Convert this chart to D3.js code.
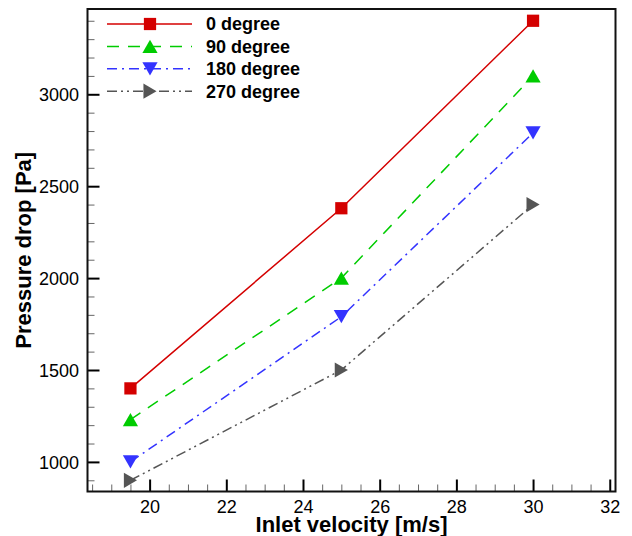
<!DOCTYPE html>
<html>
<head>
<meta charset="utf-8">
<script src="https://cdn.jsdelivr.net/npm/d3@7"></script>
<style>
  html, body { margin: 0; padding: 0; background: #fff; }
  svg { display: block; }
  text { font-family: "Liberation Sans", Arial, sans-serif; }
</style>
</head>
<body>
<svg id="chart" width="632" height="536"></svg>
<script>
// ---- data ----
const velocities = [19.5, 25, 30];
const seriesNames = ["0 degree", "90 degree", "180 degree", "270 degree"];
const deg0   = [1400, 2380, 3400];
const deg90  = [1230, 2000, 3100];
const deg180 = [1000, 1790, 2790];
const deg270 = [900, 1500, 2400];
const xTickValues = [20, 22, 24, 26, 28, 30, 32];
const yTickValues = [1000, 1500, 2000, 2500, 3000];
const xTitle = "Inlet velocity [m/s]";
const yTitle = "Pressure drop [Pa]";

// ---- styles ----
const styles = [
  { color: "#d40000", dash: null,             symbol: d3.symbolSquare,   rot: 0,   size: 150 },
  { color: "#00cc00", dash: "12,9",           symbol: d3.symbolTriangle, rot: 0,   size: 100 },
  { color: "#3333ff", dash: "10,5,2,5",       symbol: d3.symbolTriangle, rot: 180, size: 100 },
  { color: "#555555", dash: "10,4,2,4,2,4",   symbol: d3.symbolTriangle, rot: 90,  size: 100 }
];
const seriesValues = [deg0, deg90, deg180, deg270];

const L = 87.5, R = 615.5, T = 9, B = 491.5;
const svg = d3.select("#chart");

const x = d3.scaleLinear().domain([18.38, 32.15]).range([L, R]);
const y = d3.scaleLinear().domain([839, 3464]).range([B, T]);

// minor ticks
const xMinor = d3.range(18.5, 32.01, 0.5).filter(v => !xTickValues.some(t => Math.abs(t - v) < 1e-6));
const yMinor = d3.range(900, 3401, 100).filter(v => !yTickValues.includes(v));

const g = svg.append("g");

// x axis (ticks inward)
const xAxisMajor = d3.axisBottom(x).tickValues(xTickValues).tickSize(-12).tickPadding(20).tickFormat(d3.format("d"));
const xAxisMinor = d3.axisBottom(x).tickValues(xMinor).tickSize(-7).tickFormat("");
const gxMin = g.append("g").attr("transform", `translate(0,${B})`).call(xAxisMinor);
const gx = g.append("g").attr("transform", `translate(0,${B})`).call(xAxisMajor);
const yAxisMajor = d3.axisLeft(y).tickValues(yTickValues).tickSize(-12).tickPadding(20).tickFormat(d3.format("d"));
const yAxisMinor = d3.axisLeft(y).tickValues(yMinor).tickSize(-7).tickFormat("");
const gyMin = g.append("g").attr("transform", `translate(${L},0)`).call(yAxisMinor);
const gy = g.append("g").attr("transform", `translate(${L},0)`).call(yAxisMajor);

[gx, gy, gxMin, gyMin].forEach(a => a.select(".domain").remove());
[gx, gy].forEach(a => a.selectAll(".tick line").attr("stroke", "#000").attr("stroke-width", 2));
[gxMin, gyMin].forEach(a => a.selectAll(".tick line").attr("stroke", "#666").attr("stroke-width", 1));

gx.selectAll(".tick text")
  .attr("font-size", 18).attr("fill", "#000")
  .attr("y", 0).attr("dy", null)
  .attr("transform", "translate(0,21.5)");
gy.selectAll(".tick text")
  .attr("font-size", 18).attr("fill", "#000")
  .attr("x", -8.5).attr("dy", "0.35em");

// frame
svg.append("rect")
  .attr("x", L).attr("y", T).attr("width", R - L).attr("height", B - T)
  .attr("fill", "none").attr("stroke", "#111").attr("stroke-width", 2);

// axis titles
svg.append("text")
  .attr("x", (L + R) / 2).attr("y", 532)
  .attr("text-anchor", "middle").attr("font-size", 22).attr("font-weight", "bold")
  .text(xTitle);
svg.append("text")
  .attr("transform", `translate(31,${(T + B) / 2}) rotate(-90)`)
  .attr("text-anchor", "middle").attr("font-size", 22).attr("font-weight", "bold")
  .text(yTitle);

// symbol helper: centre the bounding box on the point
function symbolTransform(st, px, py) {
  let dx = 0, dy = 0;
  if (st.symbol === d3.symbolTriangle) {
    const h = Math.sqrt(st.size / (Math.sqrt(3) * 3)) / 2;
    if (st.rot === 0) dy = h;
    else if (st.rot === 180) dy = -h;
    else if (st.rot === 90) dx = -h;
  }
  return `translate(${px + dx},${py + dy}) rotate(${st.rot})`;
}

const line = d3.line().x(d => x(d[0])).y(d => y(d[1]));

seriesValues.forEach((vals, i) => {
  const st = styles[i];
  const pts = velocities.map((v, j) => [v, vals[j]]);
  svg.append("path")
    .attr("d", line(pts))
    .attr("fill", "none").attr("stroke", st.color).attr("stroke-width", 1.5)
    .attr("stroke-dasharray", st.dash);
  svg.selectAll(null).data(pts).enter().append("path")
    .attr("d", d3.symbol().type(st.symbol).size(st.size)())
    .attr("transform", d => symbolTransform(st, x(d[0]), y(d[1])))
    .attr("fill", st.color);
});

// legend
const legX1 = 107, legX2 = 192, legMark = 150, legText = 206, legY0 = 24, legDy = 22.4;
seriesNames.forEach((name, i) => {
  const st = styles[i];
  const yy = legY0 + i * legDy;
  svg.append("line")
    .attr("x1", legX1).attr("x2", legX2).attr("y1", yy).attr("y2", yy)
    .attr("stroke", st.color).attr("stroke-width", 1.5)
    .attr("stroke-dasharray", st.dash);
  svg.append("path")
    .attr("d", d3.symbol().type(st.symbol).size(st.size)())
    .attr("transform", symbolTransform(st, legMark, yy))
    .attr("fill", st.color);
  svg.append("text")
    .attr("x", legText).attr("y", yy).attr("dy", "0.36em")
    .attr("font-size", 18).attr("font-weight", "bold").attr("fill", "#000")
    .text(name);
});
</script>
</body>
</html>
